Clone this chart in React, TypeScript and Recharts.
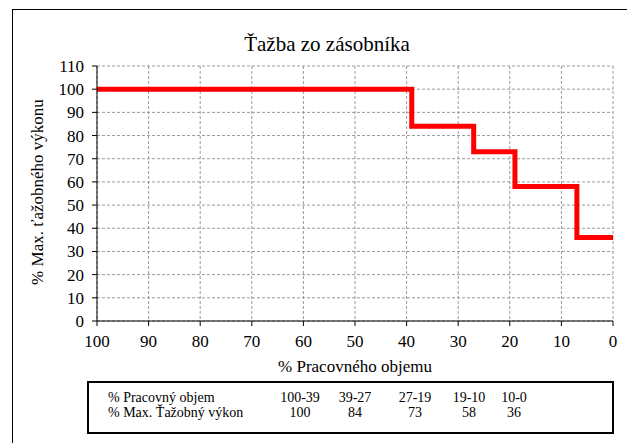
import React from 'react';
import { LineChart, Line, XAxis, YAxis, CartesianGrid } from 'recharts';

const volumeBreaks = [100, 39, 27, 19, 7, 0];
const powerValues = [100, 84, 73, 58, 36, 36];
const xTicks = [0, 10, 20, 30, 40, 50, 60, 70, 80, 90, 100];
const yTicks = [0, 10, 20, 30, 40, 50, 60, 70, 80, 90, 100, 110];
const tableRanges = ['100-39', '39-27', '27-19', '19-10', '10-0'];
const tableValues = [100, 84, 73, 58, 36];
const tableRowLabels = ['% Pracovný objem', '% Max. Ťažobný výkon'];

const data = volumeBreaks.map((v, i) => ({ x: v, y: powerValues[i] }));

const FONT = '"Liberation Serif", "Times New Roman", serif';
const colCenters = [300, 355, 415, 469, 514];

export default function App() {
  return (
    <div style={{ position: 'fixed', left: 0, top: 0, width: 627, height: 443, overflow: 'hidden', background: '#fff', fontFamily: FONT }}>
      <div style={{ position: 'absolute', left: 12, top: 9, width: 700, height: 500, borderLeft: '1px solid #000', borderTop: '1px solid #000' }} />
      <div style={{ position: 'absolute', left: 0, top: 0 }}>
        <LineChart width={627} height={443} data={data} margin={{ top: 66, right: 14, bottom: 92, left: 0 }}>
          <CartesianGrid stroke="#9a9a9a" strokeDasharray="3 2" />
          <XAxis
            dataKey="x"
            type="number"
            domain={[0, 100]}
            reversed
            ticks={xTicks}
            height={30}
            stroke="#000"
            tickSize={5}
            tickMargin={9}
            tick={{ fill: '#000', fontSize: 17, fontFamily: FONT }}
            interval={0}
          />
          <YAxis
            type="number"
            domain={[0, 110]}
            ticks={yTicks}
            width={97}
            stroke="#000"
            tickSize={5}
            tickMargin={8}
            tick={{ fill: '#000', fontSize: 17, fontFamily: FONT }}
            interval={0}
          />
          <Line
            dataKey="y"
            type="stepAfter"
            stroke="#ff0000"
            strokeWidth={5}
            dot={false}
            isAnimationActive={false}
          />
        </LineChart>
      </div>
      <div style={{ position: 'absolute', left: 0, width: 654, top: 31, textAlign: 'center', fontSize: 21, lineHeight: '26px' }}>
        Ťažba zo zásobníka
      </div>
      <div style={{ position: 'absolute', left: 38 - 150, top: 192 - 10, width: 300, height: 20, textAlign: 'center', fontSize: 17, lineHeight: '20px', transform: 'rotate(-90deg)' }}>
        % Max. ťažobného výkonu
      </div>
      <div style={{ position: 'absolute', left: 97, width: 516, top: 357, textAlign: 'center', fontSize: 17, lineHeight: '20px' }}>
        % Pracovného objemu
      </div>
      <div style={{ position: 'absolute', left: 87, top: 381, width: 523, height: 49, border: '2px solid #000', boxSizing: 'content-box' }} />
      {tableRowLabels.map((lbl, r) => (
        <div key={lbl} style={{ position: 'absolute', left: 108, top: 390 + r * 15, fontSize: 14, lineHeight: '16px', whiteSpace: 'nowrap' }}>
          {lbl}
        </div>
      ))}
      {tableRanges.map((t, i) => (
        <div key={'r' + i} style={{ position: 'absolute', left: colCenters[i] - 30, width: 60, top: 390, textAlign: 'center', fontSize: 14, lineHeight: '16px' }}>
          {t}
        </div>
      ))}
      {tableValues.map((t, i) => (
        <div key={'v' + i} style={{ position: 'absolute', left: colCenters[i] - 30, width: 60, top: 405, textAlign: 'center', fontSize: 14, lineHeight: '16px' }}>
          {t}
        </div>
      ))}
    </div>
  );
}
